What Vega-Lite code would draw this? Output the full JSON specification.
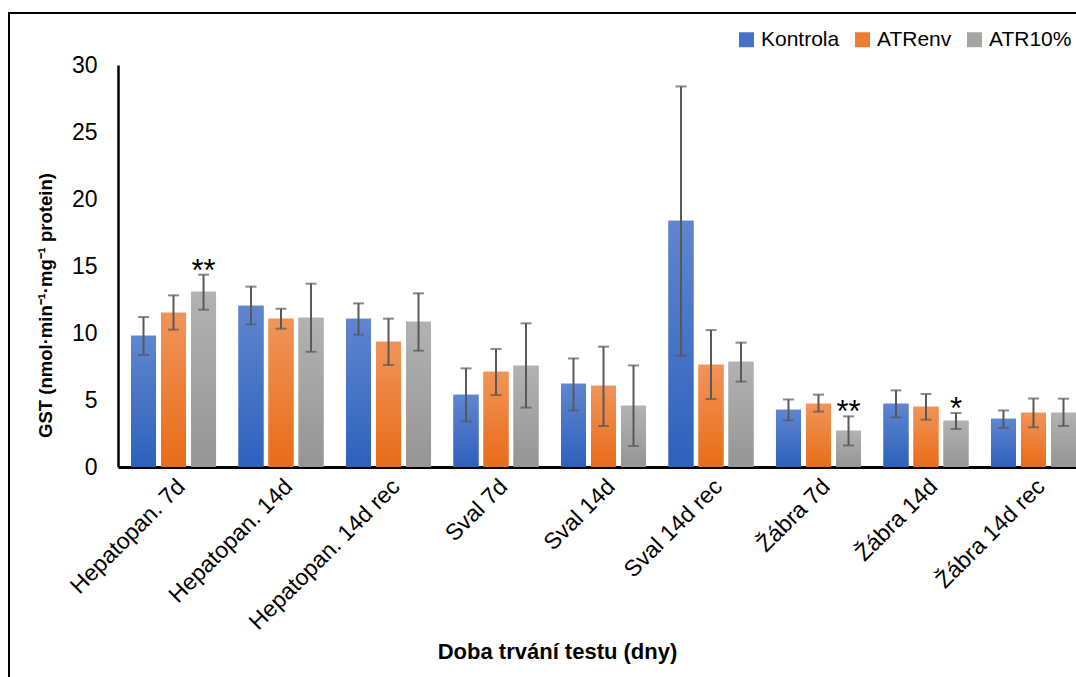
{
  "$schema": "https://vega.github.io/schema/vega-lite/v6.json",
  "width": 1069,
  "height": 666,
  "autosize": {"type": "none"},
  "padding": {"left": 9, "top": 13, "right": -2, "bottom": -2},
  "background": "white",
  "config": {
    "view": {"stroke": "black", "strokeWidth": 2},
    "font": "Liberation Sans"
  },
  "data": {
    "values": [
      {"g": "Hepatopan. 7d", "s": "Kontrola", "v": 9.80, "lo": 8.36, "hi": 11.19, "star": ""},
      {"g": "Hepatopan. 7d", "s": "ATRenv", "v": 11.51, "lo": 10.25, "hi": 12.81, "star": ""},
      {"g": "Hepatopan. 7d", "s": "ATR10%", "v": 13.07, "lo": 11.74, "hi": 14.35, "star": "**"},
      {"g": "Hepatopan. 14d", "s": "Kontrola", "v": 12.04, "lo": 10.64, "hi": 13.46, "star": ""},
      {"g": "Hepatopan. 14d", "s": "ATRenv", "v": 11.07, "lo": 10.32, "hi": 11.81, "star": ""},
      {"g": "Hepatopan. 14d", "s": "ATR10%", "v": 11.14, "lo": 8.60, "hi": 13.68, "star": ""},
      {"g": "Hepatopan. 14d rec", "s": "Kontrola", "v": 11.07, "lo": 9.87, "hi": 12.21, "star": ""},
      {"g": "Hepatopan. 14d rec", "s": "ATRenv", "v": 9.35, "lo": 7.61, "hi": 11.07, "star": ""},
      {"g": "Hepatopan. 14d rec", "s": "ATR10%", "v": 10.84, "lo": 8.68, "hi": 12.96, "star": ""},
      {"g": "Sval 7d", "s": "Kontrola", "v": 5.40, "lo": 3.40, "hi": 7.36, "star": ""},
      {"g": "Sval 7d", "s": "ATRenv", "v": 7.11, "lo": 5.37, "hi": 8.81, "star": ""},
      {"g": "Sval 7d", "s": "ATR10%", "v": 7.56, "lo": 4.43, "hi": 10.72, "star": ""},
      {"g": "Sval 14d", "s": "Kontrola", "v": 6.22, "lo": 4.22, "hi": 8.10, "star": ""},
      {"g": "Sval 14d", "s": "ATRenv", "v": 6.07, "lo": 3.06, "hi": 8.98, "star": ""},
      {"g": "Sval 14d", "s": "ATR10%", "v": 4.57, "lo": 1.57, "hi": 7.58, "star": ""},
      {"g": "Sval 14d rec", "s": "Kontrola", "v": 18.38, "lo": 8.31, "hi": 28.40, "star": ""},
      {"g": "Sval 14d rec", "s": "ATRenv", "v": 7.63, "lo": 5.07, "hi": 10.22, "star": ""},
      {"g": "Sval 14d rec", "s": "ATR10%", "v": 7.86, "lo": 6.37, "hi": 9.28, "star": ""},
      {"g": "Žábra 7d", "s": "Kontrola", "v": 4.28, "lo": 3.48, "hi": 5.04, "star": ""},
      {"g": "Žábra 7d", "s": "ATRenv", "v": 4.72, "lo": 4.13, "hi": 5.40, "star": ""},
      {"g": "Žábra 7d", "s": "ATR10%", "v": 2.71, "lo": 1.61, "hi": 3.78, "star": "**"},
      {"g": "Žábra 14d", "s": "Kontrola", "v": 4.72, "lo": 3.70, "hi": 5.72, "star": ""},
      {"g": "Žábra 14d", "s": "ATRenv", "v": 4.50, "lo": 3.53, "hi": 5.45, "star": ""},
      {"g": "Žábra 14d", "s": "ATR10%", "v": 3.46, "lo": 2.84, "hi": 4.03, "star": "*"},
      {"g": "Žábra 14d rec", "s": "Kontrola", "v": 3.60, "lo": 2.93, "hi": 4.22, "star": ""},
      {"g": "Žábra 14d rec", "s": "ATRenv", "v": 4.05, "lo": 2.96, "hi": 5.12, "star": ""},
      {"g": "Žábra 14d rec", "s": "ATR10%", "v": 4.05, "lo": 3.06, "hi": 5.10, "star": ""}
    ]
  },
  "encoding": {
    "x": {
      "field": "g",
      "type": "nominal",
      "sort": ["Hepatopan. 7d", "Hepatopan. 14d", "Hepatopan. 14d rec", "Sval 7d", "Sval 14d", "Sval 14d rec", "Žábra 7d", "Žábra 14d", "Žábra 14d rec"],
      "scale": {"range": [109, 1067], "paddingInner": 0.209, "paddingOuter": 0.0605, "align": 1},
      "axis": {
        "orient": "bottom",
        "offset": -212,
        "labelAngle": -45,
        "labelFontSize": 23,
        "labelPadding": 8,
        "labelLimit": 400,
        "labelColor": "black",
        "ticks": false,
        "domainWidth": 3,
        "domainColor": "black",
        "title": "Doba trvání testu (dny)",
        "titleFontSize": 22,
        "titleFontWeight": "bold",
        "titleColor": "black",
        "titleX": 548,
        "titleY": 184,
        "titleAlign": "center",
        "titleBaseline": "middle"
      }
    },
    "xOffset": {
      "field": "s",
      "type": "nominal",
      "sort": ["Kontrola", "ATRenv", "ATR10%"],
      "scale": {"paddingInner": 0.167, "paddingOuter": 0}
    },
    "y": {
      "field": "v",
      "type": "quantitative",
      "scale": {"domain": [0, 30], "range": [454, 52], "nice": false},
      "axis": {
        "orient": "left",
        "offset": -109,
        "values": [0, 5, 10, 15, 20, 25, 30],
        "grid": false,
        "ticks": false,
        "labelPadding": 21,
        "labelFontSize": 23,
        "labelColor": "black",
        "domainColor": "black",
        "domainWidth": 2.5,
        "title": "GST (nmol·min⁻¹·mg⁻¹ protein)",
        "titleFontSize": 18.5,
        "titleFontWeight": "bold",
        "titleColor": "black",
        "titleAngle": 270,
        "titleX": -73,
        "titleY": 292,
        "titleAlign": "center",
        "titleBaseline": "middle"
      }
    }
  },
  "layer": [
    {
      "mark": {"type": "bar"},
      "encoding": {
        "color": {
          "field": "s",
          "type": "nominal",
          "sort": ["Kontrola", "ATRenv", "ATR10%"],
          "scale": {"domain": ["Kontrola", "ATRenv", "ATR10%"], "range": ["#4472C4", "#ED7D31", "#A5A5A5"]},
          "legend": {
            "orient": "none",
            "legendX": 727,
            "legendY": 16,
            "direction": "horizontal",
            "title": null,
            "symbolType": "square",
            "symbolSize": 225,
            "symbolStrokeWidth": 0,
            "labelFontSize": 21,
            "labelColor": "black",
            "labelOffset": 4,
            "columnPadding": 12
          }
        }
      }
    },
    {
      "transform": [{"filter": "datum.s == 'Kontrola'"}],
      "mark": {"type": "bar", "fill": {"gradient": "linear", "x1": 0, "y1": 0, "x2": 0, "y2": 1, "stops": [{"offset": 0, "color": "#5f86cf"}, {"offset": 1, "color": "#2e61bd"}]}},
      "encoding": {}
    },
    {
      "transform": [{"filter": "datum.s == 'ATRenv'"}],
      "mark": {"type": "bar", "fill": {"gradient": "linear", "x1": 0, "y1": 0, "x2": 0, "y2": 1, "stops": [{"offset": 0, "color": "#f19459"}, {"offset": 1, "color": "#e86c18"}]}},
      "encoding": {}
    },
    {
      "transform": [{"filter": "datum.s == 'ATR10%'"}],
      "mark": {"type": "bar", "fill": {"gradient": "linear", "x1": 0, "y1": 0, "x2": 0, "y2": 1, "stops": [{"offset": 0, "color": "#b2b2b2"}, {"offset": 1, "color": "#959595"}]}},
      "encoding": {}
    },
    {
      "mark": {"type": "rule", "color": "#595959", "strokeWidth": 2},
      "encoding": {
        "y": {"field": "lo", "type": "quantitative"},
        "y2": {"field": "hi"}
      }
    },
    {
      "mark": {"type": "tick", "color": "#595959", "thickness": 2, "size": 11, "orient": "horizontal"},
      "encoding": {
        "y": {"field": "hi", "type": "quantitative"}
      }
    },
    {
      "mark": {"type": "tick", "color": "#595959", "thickness": 2, "size": 11, "orient": "horizontal"},
      "encoding": {
        "y": {"field": "lo", "type": "quantitative"}
      }
    },
    {
      "transform": [{"filter": "datum.star != ''"}],
      "mark": {"type": "text", "fontSize": 31, "baseline": "alphabetic", "dy": 6, "color": "black"},
      "encoding": {
        "y": {"field": "hi", "type": "quantitative"},
        "text": {"field": "star"}
      }
    }
  ]
}
